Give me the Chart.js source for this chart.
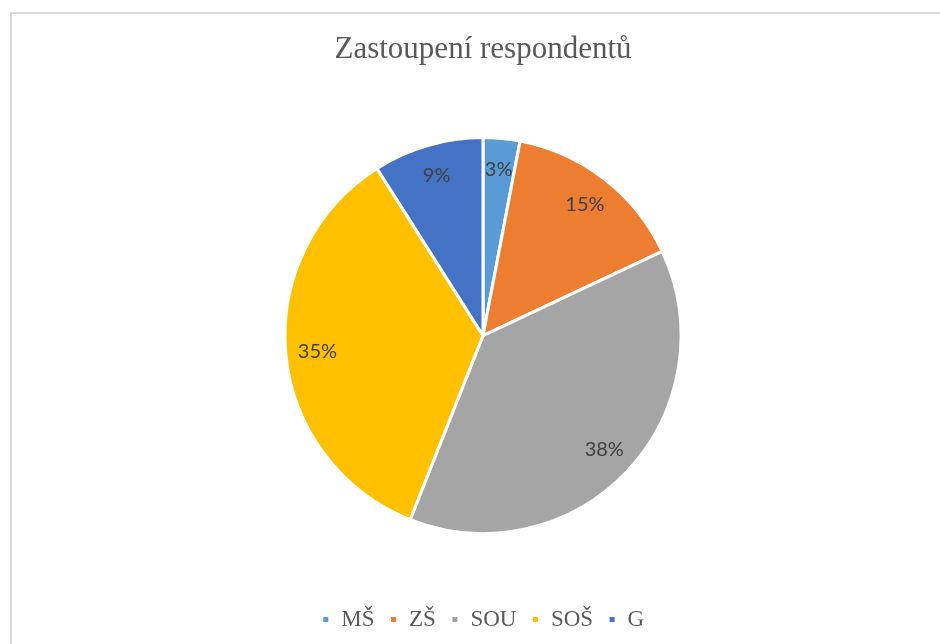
<!DOCTYPE html>
<html>
<head>
<meta charset="utf-8">
<script src="https://cdn.jsdelivr.net/npm/chart.js@4/dist/chart.umd.min.js"></script>
<style>
    html, body { margin: 0; padding: 0; background: #fff; overflow: hidden; }
    #frame {
        position: absolute; left: 10px; top: 12px;
        width: 946px; height: 650px;
        border-top: 2px solid #d9d9d9; border-left: 2px solid #d9d9d9;
    }
    #box { position: absolute; left: -2px; top: -2px; width: 946px; height: 650px; }
</style>
</head>
<body>
<div id="frame"><div id="box"><canvas id="chart1"></canvas></div></div>
<script>
// data
var categories = ['MŠ', 'ZŠ', 'SOU', 'SOŠ', 'G'];
var values = [3, 15, 38, 35, 9];
var colors = ['#5B9BD5', '#ED7D31', '#A5A5A5', '#FFC000', '#4472C4'];

// percent labels inside the slices, like in excel
var sliceLabels = {
    id: 'sliceLabels',
    afterDatasetsDraw: function(chart) {
        var ctx = chart.ctx;
        var total = values.reduce(function(a, b) { return a + b; }, 0);
        chart.getDatasetMeta(0).data.forEach(function(arc, i) {
            var mid = (arc.startAngle + arc.endAngle) / 2;
            var r = arc.outerRadius * 0.84;
            ctx.save();
            ctx.fillStyle = '#404040';
            ctx.font = '20px Lato';
            ctx.textAlign = 'center';
            ctx.textBaseline = 'middle';
            ctx.fillText(Math.round(values[i] / total * 100) + '%', arc.x + Math.cos(mid) * r, arc.y + Math.sin(mid) * r);
            ctx.restore();
        });
    }
};

var chart1Ctx = document.getElementById('chart1').getContext('2d');
var chart1 = new Chart(chart1Ctx, {
    type: 'pie',
    data: {
        labels: categories,
        datasets: [{
            data: values,
            backgroundColor: colors,
            borderColor: '#ffffff',
            borderWidth: 3,
            radius: 198
        }]
    },
    options: {
        responsive: true,
        maintainAspectRatio: false,
        animation: false,
        layout: { padding: { top: 0, bottom: 21 } },
        plugins: {
            title: {
                display: true,
                text: 'Zastoupení respondentů',
                color: '#595959',
                font: { family: '"Liberation Serif"', size: 31, weight: 'normal' },
                padding: { top: 19, bottom: 10 }
            },
            legend: {
                position: 'bottom',
                labels: {
                    color: '#595959',
                    font: { family: '"Liberation Serif"', size: 23 },
                    boxWidth: 8,
                    boxHeight: 8,
                    padding: 15
                }
            },
            tooltip: { enabled: false }
        }
    },
    plugins: [sliceLabels]
});
</script>
</body>
</html>
